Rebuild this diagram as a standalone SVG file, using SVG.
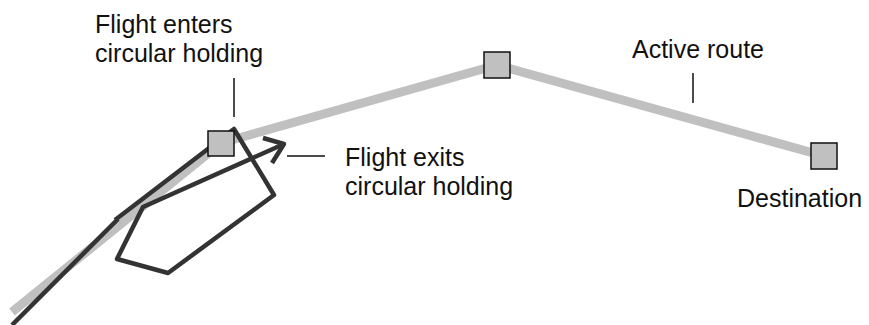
<svg xmlns="http://www.w3.org/2000/svg" width="869" height="325" viewBox="0 0 869 325">
<style>
.route{fill:none;stroke:#c0c0c0;stroke-width:9;stroke-linejoin:round}
.wp{fill:#c0c0c0;stroke:#111;stroke-width:1.5}
.flight{fill:none;stroke:#333;stroke-width:4.5;stroke-linejoin:round;stroke-linecap:butt}
.lead{stroke:#111;stroke-width:1.5;fill:none}
text{font-family:"Liberation Sans",Arial,sans-serif;font-size:25px;fill:#111}
</style>
<rect width="869" height="325" fill="#fff"/>
<g id="connectors">
<polyline id="route" class="route" points="12,312 221,143 497,65 824,156"/>
<path id="flight-path" class="flight" d="M12,325 L118,219 M115,220 L234,129 L274,195 L168,273 L117,259 L143,207 L284,144"/>
<polyline id="arrowhead" class="flight" points="263,138 284,144 272,163"/>
<line class="lead" x1="234" y1="78" x2="234" y2="117"/>
<line class="lead" x1="287" y1="156" x2="325" y2="156"/>
<line class="lead" x1="693" y1="73" x2="693" y2="103"/>
</g>
<g id="wp1"><rect class="wp" x="208" y="131" width="26" height="25"/></g>
<g id="wp2"><rect class="wp" x="484" y="52" width="26" height="26"/></g>
<g id="wp3"><rect class="wp" x="811" y="143" width="26" height="26"/></g>
<g id="label-enters"><text x="95" y="33">Flight enters</text><text x="95" y="62">circular holding</text></g>
<g id="label-exits"><text x="345" y="166">Flight exits</text><text x="345" y="195">circular holding</text></g>
<g id="label-route"><text x="632" y="58">Active route</text></g>
<g id="label-dest"><text x="737" y="207">Destination</text></g>
</svg>
